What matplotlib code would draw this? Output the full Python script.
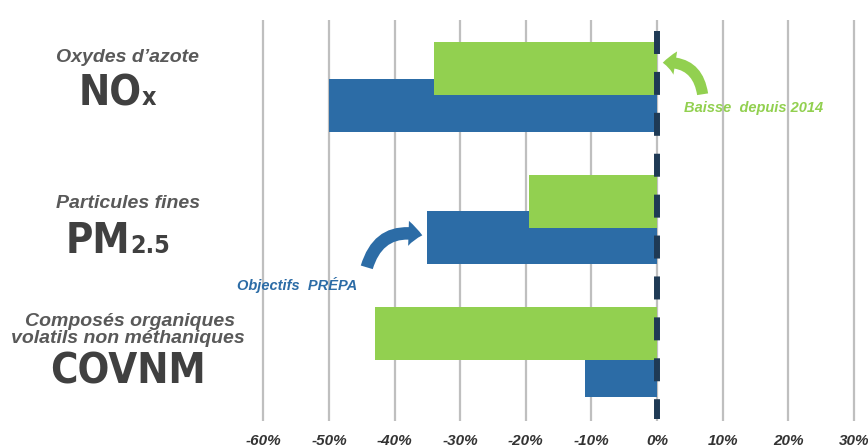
import numpy as np
import matplotlib
matplotlib.use('Agg')
import matplotlib.pyplot as plt
from matplotlib.patches import FancyArrowPatch

# data (fraction of change)
categories = ['NOx', 'PM2.5', 'COVNM']
baisse_2014 = [-0.34, -0.195, -0.43]
objectifs_prepa = [-0.50, -0.35, -0.11]
xticks = [-0.6, -0.5, -0.4, -0.3, -0.2, -0.1, 0.0, 0.1, 0.2, 0.3]

GREEN = '#92D050'
BLUE = '#2C6CA6'
NAVY = '#1F3A55'
GRID = '#BFBFBF'
TXT = '#404040'
REG = ['Liberation Sans', 'DejaVu Sans']

W, H = 868, 448
fig = plt.figure(figsize=(W / 100, H / 100), dpi=100)
ax = fig.add_axes([250.3 / W, 1 - 421 / H, 1 - 250.3 / W, 401 / H])

def px(x, y):
    return x / W, 1 - y / H

y = np.arange(len(categories))
ax.barh(y + 0.1375, objectifs_prepa, height=0.4, color=BLUE, zorder=2)
ax.barh(y - 0.1375, baisse_2014, height=0.4, color=GREEN, zorder=3)

ax.vlines(0, -0.421, 2.507, color=NAVY, lw=4.3, linestyles=(0, (3.85, 3.0)), zorder=4)

ax.set_xlim(-0.62, 0.3216)
ax.set_ylim(2.522, -0.504)
ax.set_xticks(xticks)
ax.set_xticklabels(['%d%%' % round(v * 100) for v in xticks], fontsize=11,
                   fontweight='bold', fontstyle='italic', color='#333333', family=REG)
ax.tick_params(axis='x', length=0, pad=9)
ax.set_yticks([])
ax.grid(axis='x', color=GRID, lw=1.6, zorder=0)
ax.set_axisbelow(True)
for s in ax.spines.values():
    s.set_visible(False)

# category labels
it = dict(fontsize=14, fontweight='bold', fontstyle='italic', color='#595959', family=REG, ha='center', va='baseline')
fig.text(*px(128, 62), 'Oxydes d\u2019azote', **it)
fig.text(*px(128, 208), 'Particules fines', **it)
fig.text(*px(130, 326), 'Composés organiques', **it)
fig.text(*px(128, 343), 'volatils non méthaniques', **it)

bt = dict(fontsize=30, fontweight='bold', fontstretch='condensed', color=TXT, family='DejaVu Sans', va='baseline')
st = dict(fontsize=18, fontweight='bold', fontstretch='condensed', color=TXT, family='DejaVu Sans', va='baseline')
fig.text(*px(142, 105), 'NO', ha='right', **bt)
fig.text(*px(142, 105), 'x', ha='left', **st)
fig.text(*px(130, 253), 'PM', ha='right', **bt)
fig.text(*px(130, 253), '2.5', ha='left', **st)
fig.text(*px(128, 383), 'COVNM', ha='center', **bt)

# annotations
fig.text(*px(754, 112), 'Baisse  depuis 2014', fontsize=10.5, fontweight='bold', fontstyle='italic',
         color=GREEN, family=REG, ha='center', va='baseline')
fig.text(*px(297, 290), 'Objectifs  PRÉPA', fontsize=10.5, fontweight='bold', fontstyle='italic',
         color=BLUE, family=REG, ha='center', va='baseline')

a1 = FancyArrowPatch(px(703, 97), px(660, 63), transform=fig.transFigure,
                     connectionstyle='arc3,rad=0.5',
                     arrowstyle='simple,head_length=9,head_width=17,tail_width=8',
                     color=GREEN, lw=0)
a2 = FancyArrowPatch(px(366, 270), px(425, 236), transform=fig.transFigure,
                     connectionstyle='arc3,rad=-0.5',
                     arrowstyle='simple,head_length=10,head_width=18,tail_width=9',
                     color=BLUE, lw=0)
fig.add_artist(a1)
fig.add_artist(a2)

fig.savefig('out.png', dpi=100)
